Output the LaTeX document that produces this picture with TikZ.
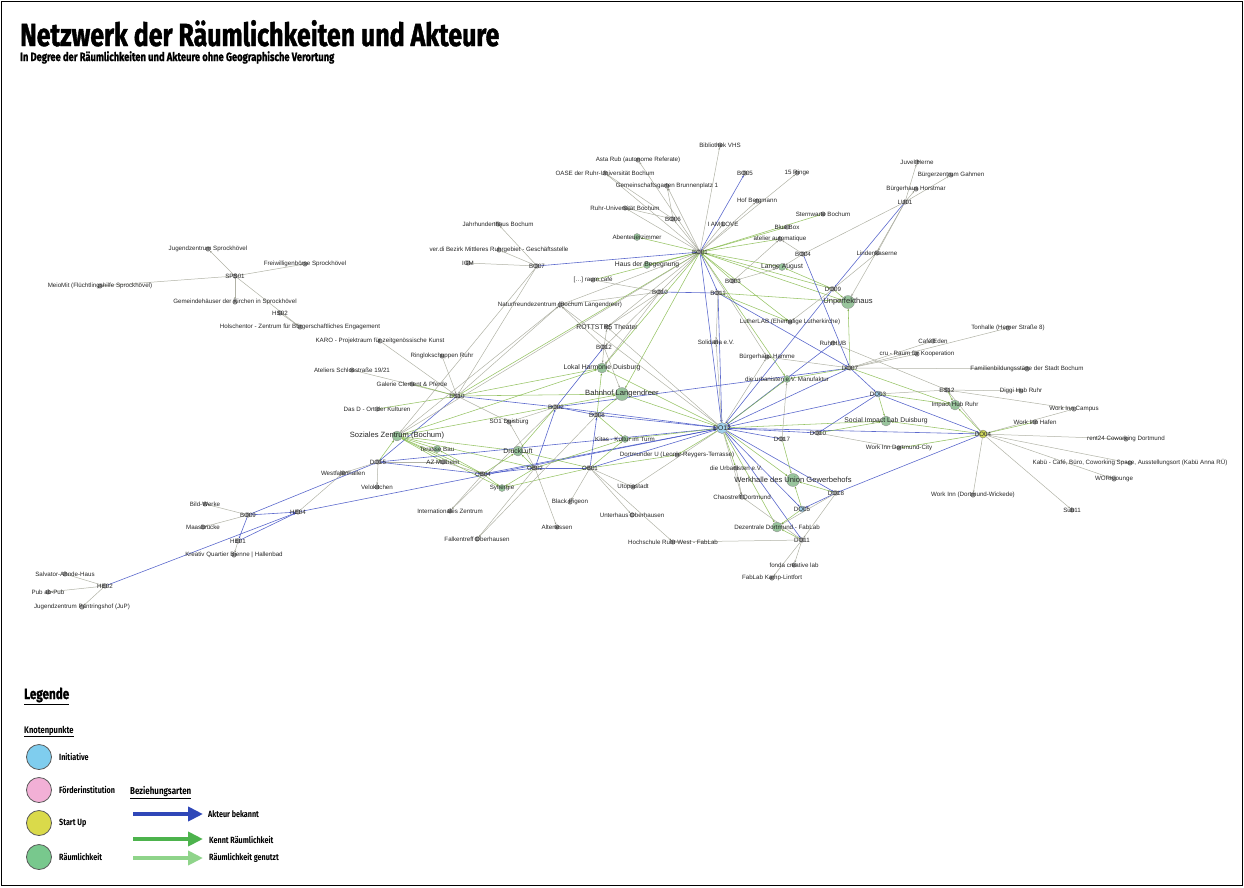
\documentclass[tikz,border=0pt]{standalone}
\usepackage{fontspec}
\usetikzlibrary{arrows.meta,backgrounds}
\newfontfamily\lf{Liberation Sans}
\newfontfamily\cf[FakeStretch=0.8]{Fira Sans}
\newfontfamily\tf[FakeStretch=0.78,FakeBold=1.2]{Fira Sans}
\definecolor{cb}{HTML}{3F4FC4}
\definecolor{cg}{HTML}{7DB53F}
\definecolor{cl}{HTML}{A3A596}
\definecolor{rmc}{HTML}{98C49C}
\definecolor{inc}{HTML}{9FCFEA}
\definecolor{suc}{HTML}{CFD85A}
\definecolor{legb}{HTML}{2F47B8}
\definecolor{legg}{HTML}{4DB34D}
\definecolor{legl}{HTML}{8FD48A}
\definecolor{lini}{HTML}{7FCDEE}
\definecolor{lfoe}{HTML}{F2B0D6}
\definecolor{lsu}{HTML}{DADA4A}
\definecolor{lrm}{HTML}{78C88D}
\newcommand\NN[6]{\node[#4] (#1) at (#2,#3) {}; \node[#5] (#1t) at (#2,#3) {#6};}
\begin{document}
\begin{tikzpicture}[x=1pt,y=-1pt,
 sn/.style={circle,inner sep=0pt,minimum size=4.5pt,draw=black!65,fill=black!35,line width=0.3pt},
 rs/.style={circle,inner sep=0pt,minimum size=7pt,draw=black!45,fill=rmc,line width=0.3pt},
 rm/.style={circle,inner sep=0pt,minimum size=10pt,draw=black!45,fill=rmc,line width=0.3pt},
 rl/.style={circle,inner sep=0pt,minimum size=13pt,draw=black!45,fill=rmc,line width=0.3pt},
 ib/.style={circle,inner sep=0pt,minimum size=11pt,draw=black!55,fill=inc,line width=0.3pt},
 is/.style={circle,inner sep=0pt,minimum size=6pt,draw=black!55,fill=inc,line width=0.3pt},
 sy/.style={circle,inner sep=0pt,minimum size=8pt,draw=black!55,fill=suc,line width=0.3pt},
 ls/.style={font=\lf\fontsize{6.2}{7}\selectfont,text=black!85,inner sep=0pt},
 lm/.style={font=\lf\fontsize{6.8}{7}\selectfont,text=black!85,inner sep=0pt},
 lb/.style={font=\lf\fontsize{7.6}{8}\selectfont,text=black!85,inner sep=0pt},
 eb/.style={draw=cb,line width=0.6pt,draw opacity=0.85,-{Stealth[length=2.5pt,width=1.8pt]}},
 eg/.style={draw=cg,line width=0.55pt,draw opacity=0.8,-{Stealth[length=2.5pt,width=1.8pt]}},
 el/.style={draw=cl,line width=0.5pt,draw opacity=0.85,-{Stealth[length=2.5pt,width=1.8pt]}},
 lgt/.style={font=\cf\bfseries\fontsize{9}{9}\selectfont,anchor=west,inner sep=0pt},
 lgc/.style={circle,minimum size=25pt,inner sep=0pt,draw=black!65,line width=0.8pt}
]
\useasboundingbox (0,0) rectangle (1244,887);
\draw[line width=1.2pt] (1.5,1.5) rectangle (1242.5,885.5);
% title
\node[anchor=base west,inner sep=0pt,font=\tf\bfseries\fontsize{32}{32}\selectfont] (title) at (20,46) {Netzwerk der Räumlichkeiten und Akteure};
\node[anchor=base west,inner sep=0pt,font=\tf\bfseries\fontsize{12}{12}\selectfont] (sub) at (20,61) {In Degree der Räumlichkeiten und Akteure ohne Geographische Verortung};
% ---------- nodes ----------
% left cluster
\NN{sps01}{235}{276}{sn}{ls}{SPS01}
\NN{jzs}{208}{249}{sn}{ls}{Jugendzentrum Sprockhövel}
\NN{fws}{305}{264}{sn}{ls}{Freiwilligenbörse Sprockhövel}
\NN{meio}{100}{286}{sn}{ls}{MeioMit (Flüchtlingshilfe Sprockhövel)}
\NN{gem}{235}{302}{sn}{ls}{Gemeindehäuser der Kirchen in Sprockhövel}
\NN{hs02}{280}{313}{sn}{ls}{HS02}
\NN{hol}{300}{327}{sn}{ls}{Holschentor - Zentrum für Bürgerschaftliches Engagement}
% bottom left
\NN{he02}{105}{586}{sn}{ls}{HE02}
\NN{salv}{65}{574}{sn}{ls}{Salvator-Ahnde-Haus}
\NN{pub}{48}{592}{sn}{ls}{Pub ab-Pub}
\NN{jup}{82}{607}{sn}{ls}{Jugendzentrum Pantringshof (JuP)}
\NN{bo09}{248}{515}{sn}{ls}{BO09}
\NN{he04}{298}{512}{sn}{ls}{HE04}
\NN{he01}{238}{541}{sn}{ls}{HE01}
\NN{bild}{205}{504}{sn}{ls}{Bild-Werke}
\NN{maa}{203}{527}{sn}{ls}{Maasbrücke}
\NN{kqh}{234}{555}{sn}{ls}{Kreativ Quartier Bienne | Hallenbad}
% left middle
\NN{karo}{380}{341}{sn}{ls}{KARO - Projektraum für zeitgenössische Kunst}
\NN{ring}{442}{356}{sn}{ls}{Ringlokschuppen Ruhr}
\NN{atel}{352}{370}{sn}{ls}{Ateliers Schlosstraße 19/21}
\NN{gal}{412}{384}{sn}{ls}{Galerie Clement \& Pferde}
\NN{es10}{457}{396}{sn}{ls}{ES10}
\NN{dasd}{377}{409}{sn}{ls}{Das D - Ort der Kulturen}
\NN{so1}{509}{422}{sn}{ls}{SO1 Duisburg}
\NN{soz}{397}{436}{rm}{lb}{Soziales Zentrum (Bochum)}
\NN{ter}{437}{449}{rs}{ls}{Terasse Bau}
\NN{dru}{518}{451}{rm}{lm}{DruckLuft}
\NN{do15}{378}{462}{sn}{ls}{DO15}
\NN{az}{443}{462}{sn}{ls}{AZ Mülheim}
\NN{west}{343}{473}{sn}{ls}{Westfalenhallen}
\NN{ob04}{483}{474}{sn}{ls}{OB04}
\NN{ob02}{535}{468}{sn}{ls}{OB02}
\NN{ob01}{590}{468}{sn}{ls}{OB01}
\NN{velo}{377}{487}{sn}{ls}{Velokitchen}
\NN{syn}{502}{488}{rs}{ls}{Synergie}
\NN{inz}{450}{511}{sn}{ls}{Internationales Zentrum}
\NN{falk}{477}{539}{sn}{ls}{Falkentreff Oberhausen}
\NN{alt}{557}{527}{sn}{ls}{Altenessen}
\NN{black}{570}{502}{sn}{ls}{Black Pigeon}
\NN{utop}{633}{487}{sn}{ls}{Utopiastadt}
\NN{unter}{632}{515}{sn}{ls}{Unterhaus Oberhausen}
\NN{hsrw}{673}{542}{sn}{ls}{Hochschule Ruhr West - FabLab}
\NN{kitas}{625}{439}{rs}{ls}{Kitas - Kultur im Turm}
\NN{bo02}{556}{407}{sn}{ls}{BO02}
\NN{bo08}{597}{415}{sn}{ls}{BO08}
\NN{dortu}{677}{455}{sn}{ls}{Dortmunder U (Leonie-Reygers-Terrasse)}
\NN{urb}{736}{468}{sn}{ls}{die Urbanisten e.V.}
\NN{chaos}{742}{497}{sn}{ls}{Chaostreff Dortmund}
\NN{werk}{793}{480}{rl}{lb}{Werkhalle des Union Gewerbehofs}
\NN{do18}{836}{493}{sn}{ls}{DO18}
\NN{do05}{802}{509}{is}{ls}{DO05}
\NN{dez}{777}{527}{rm}{ls}{Dezentrale Dortmund - FabLab}
\NN{do11}{802}{540}{sn}{ls}{DO11}
\NN{fonda}{794}{565}{sn}{ls}{fonda creative lab}
\NN{kamp}{772}{578}{sn}{ls}{FabLab Kamp-Lintfort}
% top middle
\NN{bib}{720}{145}{sn}{ls}{Bibliothek VHS}
\NN{asta}{638}{160}{sn}{ls}{Asta Rub (autonome Referate)}
\NN{oase}{605}{173}{sn}{ls}{OASE der Ruhr-Universität Bochum}
\NN{gemg}{667}{186}{sn}{ls}{Gemeinschaftsgarten Brunnenplatz 1}
\NN{bo05}{745}{173}{sn}{ls}{BO05}
\NN{ring15}{797}{173}{sn}{ls}{15 Ringe}
\NN{hof}{757}{201}{sn}{ls}{Hof Bergmann}
\NN{rub}{625}{208}{sn}{ls}{Ruhr-Universität Bochum}
\NN{bo06}{673}{219}{sn}{ls}{BO06}
\NN{iam}{723}{224}{sn}{ls}{I AM LOVE}
\NN{jahr}{498}{224}{sn}{ls}{Jahrhunderthaus Bochum}
\NN{stern}{823}{214}{sn}{ls}{Sternwarte Bochum}
\NN{blue}{787}{227}{sn}{ls}{Blue Box}
\NN{aben}{637}{237}{rs}{ls}{Abenteuerzimmer}
\NN{atau}{780}{239}{sn}{ls}{atelier automatique}
\NN{verdi}{499}{250}{sn}{ls}{ver.di Bezirk Mittleres Ruhrgebiet - Geschäftsstelle}
\NN{bo01}{700}{252}{sn}{ls}{BO01}
\NN{bo04}{803}{254}{sn}{ls}{BO04}
\NN{igm}{468}{263}{sn}{ls}{IGM}
\NN{bo07}{537}{266}{sn}{ls}{BO07}
\NN{haus}{647}{265}{rs}{lm}{Haus der Begegnung}
\NN{lange}{782}{267}{rs}{lm}{Lange August}
\NN{raum}{593}{280}{sn}{ls}{[\dots] raum.café}
\NN{bo03}{733}{281}{sn}{ls}{BO03}
\NN{do09}{833}{289}{sn}{ls}{DO09}
\NN{bo10}{660}{292}{sn}{ls}{BO10}
\NN{bo11}{718}{293}{sn}{ls}{BO11}
\NN{unp}{848}{302}{rl}{lb}{Unperfekthaus}
\NN{natur}{560}{305}{sn}{ls}{Naturfreundezentrum (Bochum Langendreer)}
\NN{luth}{790}{322}{sn}{ls}{LutherLAB (Ehemalige Lutherkirche)}
\NN{rott}{607}{327}{sn}{lm}{ROTTSTR5 Theater}
\NN{sol}{716}{342}{sn}{ls}{Solidaria e.V.}
\NN{ruhrhub}{833}{343}{sn}{ls}{RuhrHUB}
\NN{bo12}{604}{347}{sn}{ls}{BO12}
\NN{bham}{767}{357}{sn}{ls}{Bürgerhaus Hamme}
\NN{lokal}{602}{368}{rm}{lm}{Lokal Harmonie Duisburg}
\NN{do07}{850}{368}{sn}{ls}{DO07}
\NN{manu}{787}{379}{rs}{ls}{die urbanisten e.V. Manufaktur}
\NN{bahn}{622}{394}{rl}{lb}{Bahnhof Langendreer}
\NN{do03}{878}{394}{is}{ls}{DO03}
\NN{do12}{722}{428}{ib}{lm}{DO12}
\NN{do17}{782}{439}{sn}{ls}{DO17}
\NN{do10}{818}{433}{sn}{ls}{DO10}
\NN{sil}{886}{421}{rm}{lm}{Social Impact Lab Duisburg}
\NN{wcity}{899}{448}{sn}{ls}{Work Inn Dortmund-City}
% right
\NN{lind}{877}{253}{sn}{ls}{Lindenkaserne}
\NN{lu01}{905}{202}{sn}{ls}{LU01}
\NN{juvel}{917}{162}{sn}{ls}{Juvel Herne}
\NN{bgah}{951}{175}{sn}{ls}{Bürgerzentrum Gahmen}
\NN{bhor}{916}{189}{sn}{ls}{Bürgerhaus Horstmar}
\NN{ton}{1008}{328}{sn}{ls}{Tonhalle (Herner Straße 8)}
\NN{cafe}{933}{341}{sn}{ls}{Café Eden}
\NN{cru}{917}{354}{sn}{ls}{cru - Raum für Kooperation}
\NN{fam}{1027}{369}{sn}{ls}{Familienbildungsstätte der Stadt Bochum}
\NN{es12}{947}{390}{sn}{ls}{ES12}
\NN{diggi}{1021}{391}{sn}{ls}{Diggi Hub Ruhr}
\NN{impact}{955}{405}{rm}{ls}{Impact Hub Ruhr}
\NN{wcamp}{1074}{409}{sn}{ls}{Work Inn Campus}
\NN{whaf}{1035}{422}{sn}{ls}{Work Inn Hafen}
\NN{do04}{983}{434}{sy}{ls}{DO04}
\NN{rent}{1126}{439}{sn}{ls}{rent24 Coworking Dortmund}
\NN{kabu}{1130}{463}{sn}{ls}{Kabü - Café, Büro, Coworking Space, Ausstellungsort (Kabü Anna RÜ)}
\NN{wlou}{1114}{479}{sn}{ls}{WORKlounge}
\NN{wick}{973}{495}{sn}{ls}{Work Inn (Dortmund-Wickede)}
\NN{subn}{1072}{510}{sn}{ls}{Sub11}
% ---------- edges ----------
\begin{pgfonlayer}{background}
\draw[el] (sps01) edge (jzs) edge (fws) edge (meio) edge (gem) edge (hol);
\draw[el] (hs02) edge (hol);
\draw[el] (he02) edge (salv) edge (pub) edge (jup);
\draw[eb] (he02) edge (he04);
\draw[el] (bo09) edge (bild) edge (maa);
\draw[el] (he01) edge (kqh);
\draw[eb] (bo09) edge (he04) edge (he01) edge (do15);
\draw[eb] (he01) edge (he04);
\draw[el] (he04) edge (west);
\draw[eb] (he04) edge (do12);
% left middle
\draw[el] (karo) edge (es10);
\draw[el] (ring) edge (es10);
\draw[el] (atel) edge (es10);
\draw[eg] (gal) edge (es10);
\draw[eg] (dasd) edge (es10);
\draw[el] (es10) edge (natur) edge (so1);
\draw[eb] (es10) edge (bo02) edge (do15);
\draw[eg] (es10) edge (lokal) edge (bo01) edge (bahn);
\draw[eg] (do15) edge (soz);
\draw[eg] (soz) edge (dru) edge (ob04) edge (ob02) edge (syn) edge (ter) edge (az) edge (bahn) edge (lokal);
\draw[el] (soz) edge (bo01) edge (natur);
\draw[el] (do15) edge (west) edge (velo) edge (az);
\draw[eb] (do15) edge (do12) edge (ob04);
\draw[eb] (ob04) edge (do12) edge (ob02);
\draw[eg] (ob04) edge (syn) edge (ter) edge (dru);
\draw[el] (ob04) edge (inz) edge (az);
\draw[eb] (ob02) edge (ob01) edge (bo02);
\draw[eg] (ob02) edge (syn) edge (dru) edge (kitas);
\draw[el] (ob02) edge (falk) edge (alt) edge (so1);
\draw[eb] (ob01) edge (do12) edge (bo08);
\draw[el] (ob01) edge (black) edge (unter) edge (hsrw) edge (utop);
\draw[eg] (ob01) edge (dru) edge (syn) edge (kitas) edge (dortu);
\draw[eb] (bo02) edge (bo08) edge (do12) edge (bo12) edge (do07);
\draw[el] (bo02) edge (so1) edge (inz);
\draw[eg] (bo02) edge (dru);
\draw[eb] (bo08) edge (do12);
\draw[eg] (bo08) edge (bahn) edge (kitas) edge (lokal);
\draw[el] (bo08) edge (falk);
% top middle
\draw[el] (bo01) edge (bib) edge (ring15) edge (hof) edge (iam) edge (asta) edge (oase) edge (gemg) edge (rub) edge (bo06) edge (natur) edge (bo10) edge (bham) edge (rott);
\draw[eb] (bo01) edge (bo05) edge (bo11) edge (do12);
\draw[eg] (bo01) edge (stern) edge (blue) edge (atau) edge (lange) edge (unp) edge (do09) edge (luth) edge (aben) edge (haus) edge (raum) edge (bahn) edge (lokal) edge (manu);
\draw[el] (bo06) edge (rub) edge (gemg) edge (oase);
\draw[eb] (bo07) edge (bo01);
\draw[el] (bo07) edge (verdi) edge (igm) edge (jahr) edge (es10) edge (soz);
\draw[eb] (bo10) edge (bo11);
\draw[el] (bo10) edge (raum) edge (rott) edge (lokal) edge (natur) edge (bo12);
\draw[eb] (bo11) edge (do12) edge (do07);
\draw[eg] (bo11) edge (luth) edge (unp);
\draw[el] (bo11) edge (sol);
\draw[el] (bo03) edge (atau) edge (lange);
\draw[eg] (bo03) edge (bo01);
\draw[el] (bo04) edge (lange) edge (atau);
\draw[eb] (bo04) edge (do07);
\draw[el] (lu01) edge (juvel) edge (bgah) edge (bhor) edge (lind) edge (bo04) edge (unp);
\draw[eb] (lu01) edge (do09);
\draw[eg] (do09) edge (unp) edge (lange);
\draw[eb] (do09) edge (do12);
\draw[el] (do09) edge (luth) edge (lind);
\draw[el] (ruhrhub) edge (es12);
\draw[eb] (ruhrhub) edge (do12);
\draw[el] (bo12) edge (lokal) edge (bahn) edge (rott) edge (natur);
% right
\draw[el] (do07) edge (fam) edge (cru) edge (cafe) edge (ton) edge (bham);
\draw[eb] (do07) edge (do03) edge (do12);
\draw[eg] (do07) edge (manu) edge (unp) edge (impact);
\draw[eb] (do03) edge (do12) edge (do04) edge (do10);
\draw[eg] (do03) edge (sil) edge (impact);
\draw[el] (do03) edge (es12);
\draw[el] (do04) edge (es12) edge (wcamp) edge (rent) edge (kabu) edge (wlou) edge (subn) edge (wick);
\draw[eg] (do04) edge (impact) edge (whaf) edge (wcity) edge (sil);
\draw[eb] (do04) edge (do12) edge (do18);
\draw[el] (es12) edge (diggi) edge (wcamp);
\draw[eg] (es12) edge (impact);
\draw[el] (do12) edge (sol) edge (chaos) edge (utop) edge (bham) edge (natur) edge (rott);
\draw[eb] (do12) edge (do17) edge (do10) edge (do18) edge (do05) edge (do11);
\draw[eg] (do12) edge (werk) edge (dez) edge (urb) edge (dortu) edge (manu) edge (kitas) edge (lokal) edge (sil) edge (bahn);
\draw[eg] (do10) edge (sil);
\draw[el] (do10) edge (wcity);
\draw[eg] (do17) edge (werk);
\draw[el] (do17) edge (manu);
\draw[eg] (do18) edge (werk);
\draw[eb] (do18) edge (do05);
\draw[el] (do18) edge (do11) edge (dez);
\draw[eg] (do05) edge (werk) edge (dez);
\draw[eg] (do11) edge (dez);
\draw[el] (do11) edge (fonda) edge (kamp) edge (hsrw) edge (chaos);
\draw[el] (urb) edge (chaos);
\end{pgfonlayer}
% ---------- legend ----------
\node[anchor=base west,inner sep=0pt,font=\tf\bfseries\fontsize{15}{15}\selectfont] (legt) at (24,699) {\underline{Legende}};
\node[anchor=base west,inner sep=0pt,font=\cf\bfseries\fontsize{9.5}{10}\selectfont] (knot) at (24,733) {\underline{Knotenpunkte}};
\node[lgc,fill=lini] (c1) at (39,757) {};
\node[lgc,fill=lfoe] (c2) at (39,790) {};
\node[lgc,fill=lsu] (c3) at (39,823) {};
\node[lgc,fill=lrm] (c4) at (39,857) {};
\node[lgt] (c1t) at (59,757) {Initiative};
\node[lgt] (c2t) at (59,790) {Förderinstitution};
\node[lgt] (c3t) at (59,823) {Start Up};
\node[lgt] (c4t) at (59,857) {Räumlichkeit};
\node[anchor=west,inner sep=0pt,font=\cf\bfseries\fontsize{10}{10}\selectfont] (bez) at (130,793) {\underline{Beziehungsarten}};
\coordinate (a1s) at (133,814); \coordinate (a1e) at (203,814);
\coordinate (a2s) at (133,839); \coordinate (a2e) at (203,839);
\coordinate (a3s) at (133,858); \coordinate (a3e) at (203,858);
\draw[line width=4pt,draw=legb,-{Triangle[length=15pt,width=14pt]}] (a1s) -- (a1e);
\draw[line width=4pt,draw=legg,-{Triangle[length=15pt,width=14pt]}] (a2s) -- (a2e);
\draw[line width=4pt,draw=legl,-{Triangle[length=15pt,width=14pt]}] (a3s) -- (a3e);
\node[lgt] (a1t) at (208,814) {Akteur bekannt};
\node[lgt] (a2t) at (209,840) {Kennt Räumlichkeit};
\node[lgt] (a3t) at (209,858) {Räumlichkeit genutzt};
\end{tikzpicture}
\end{document}
